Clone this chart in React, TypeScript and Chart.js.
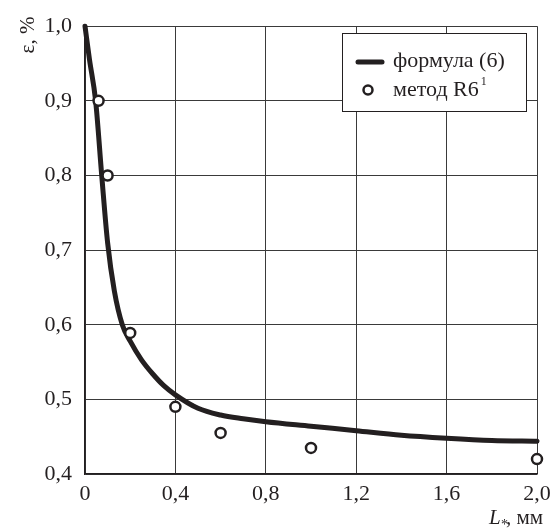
import React, { useEffect, useRef } from "react";
import { Chart, registerables } from "chart.js";

Chart.register(...registerables);

// Formula (6) curve
const curveX = [0, 0.02, 0.047, 0.074, 0.1, 0.13, 0.165, 0.2, 0.25, 0.3, 0.35, 0.4, 0.5, 0.6, 0.7, 0.8, 1.0, 1.2, 1.4, 1.6, 1.8, 2.0];
const curveY = [1.0, 0.955, 0.9, 0.8, 0.71, 0.645, 0.6, 0.578, 0.553, 0.534, 0.518, 0.506, 0.488, 0.479, 0.474, 0.47, 0.464, 0.458, 0.452, 0.448, 0.445, 0.444];

// Method R6 points
const methodX = [0.06, 0.1, 0.2, 0.4, 0.6, 1.0, 2.0];
const methodY = [0.9, 0.8, 0.589, 0.49, 0.455, 0.435, 0.42];

const xTickValues = [0, 0.4, 0.8, 1.2, 1.6, 2.0];
const xTickLabels = ["0", "0,4", "0,8", "1,2", "1,6", "2,0"];
const yTickValues = [0.4, 0.5, 0.6, 0.7, 0.8, 0.9, 1.0];
const yTickLabels = ["0,4", "0,5", "0,6", "0,7", "0,8", "0,9", "1,0"];

const legendLabels = ["формула (6)", "метод R6"];
const legendSup = "1";
const yTitle = "ε, %";
const xTitleMain = "L";
const xTitleSub = "*";
const xTitleRest = ", мм";

const FONT = "Liberation Serif";

Chart.defaults.font.family = FONT;

const overlayPlugin = {
  id: "overlay",
  afterDraw(chart: any) {
    const ctx = chart.ctx as CanvasRenderingContext2D;
    ctx.save();
    ctx.fillStyle = "#231f20";
    ctx.font = `normal 21px "${FONT}"`;
    ctx.translate(28, 35);
    ctx.rotate(-Math.PI / 2);
    ctx.textAlign = "center";
    ctx.textBaseline = "middle";
    ctx.fillText(yTitle, 0, 0);
    ctx.restore();

    ctx.save();
    ctx.fillStyle = "#231f20";
    ctx.textBaseline = "alphabetic";
    ctx.textAlign = "left";
    ctx.font = `italic 21px "${FONT}"`;
    ctx.fillText(xTitleMain, 489, 524);
    ctx.font = `normal 14px "${FONT}"`;
    ctx.fillText(xTitleSub, 501, 529);
    ctx.font = `normal 21px "${FONT}"`;
    ctx.fillText(xTitleRest, 506, 524);
    ctx.restore();

    ctx.save();
    ctx.fillStyle = "#ffffff";
    ctx.fillRect(342, 33, 185, 78);
    ctx.strokeStyle = "#231f20";
    ctx.lineWidth = 1;
    ctx.strokeRect(342.5, 33.5, 184, 78);
    ctx.lineCap = "round";
    ctx.lineWidth = 5;
    ctx.beginPath();
    ctx.moveTo(358, 62);
    ctx.lineTo(382, 62);
    ctx.stroke();
    ctx.lineWidth = 2.5;
    ctx.fillStyle = "#ffffff";
    ctx.beginPath();
    ctx.arc(368, 90, 4.5, 0, Math.PI * 2);
    ctx.fill();
    ctx.stroke();
    ctx.fillStyle = "#231f20";
    ctx.font = `normal 22px "${FONT}"`;
    ctx.textBaseline = "middle";
    ctx.textAlign = "left";
    ctx.fillText(legendLabels[0], 393, 61);
    ctx.fillText(legendLabels[1], 393, 90);
    const w = ctx.measureText(legendLabels[1]).width;
    ctx.font = `normal 12px "${FONT}"`;
    ctx.fillText(legendSup, 393 + w + 2, 82);
    ctx.restore();
  },
};

export default function App() {
  const ref = useRef<HTMLCanvasElement>(null);
  useEffect(() => {
    if (!ref.current) return;
    const chart = new Chart(ref.current, {
      type: "scatter",
      data: {
        datasets: [
          {
            label: legendLabels[1],
            data: methodX.map((x, i) => ({ x, y: methodY[i] })),
            pointRadius: 5,
            pointBorderWidth: 2.5,
            pointBackgroundColor: "#ffffff",
            pointBorderColor: "#231f20",
            showLine: false,
            order: 0,
            clip: false,
          } as any,
          {
            label: legendLabels[0],
            data: curveX.map((x, i) => ({ x, y: curveY[i] })),
            showLine: true,
            borderColor: "#231f20",
            borderWidth: 5,
            pointRadius: 0,
            cubicInterpolationMode: "monotone",
            borderCapStyle: "round",
            order: 1,
            clip: false,
          } as any,
        ],
      },
      options: {
        responsive: false,
        animation: false,
        layout: { padding: { left: 0, right: 21, top: 20, bottom: 0 } },
        plugins: { legend: { display: false }, tooltip: { enabled: false } },
        scales: {
          x: {
            type: "linear",
            min: 0,
            max: 2.0,
            afterBuildTicks: (s: any) => {
              s.ticks = xTickValues.map((v) => ({ value: v }));
            },
            afterFit: (s: any) => {
              s.height = 56;
            },
            ticks: {
              color: "#231f20",
              font: { family: FONT, size: 22, style: "normal", weight: "normal" },
              padding: 7,
              callback: (v: any) => {
                const i = xTickValues.findIndex((t) => Math.abs(t - v) < 1e-6);
                return i >= 0 ? xTickLabels[i] : "";
              },
            },
            grid: { color: "#3a3a3a", lineWidth: 1, drawTicks: false },
            border: { color: "#231f20", width: 1.5 },
          },
          y: {
            type: "linear",
            min: 0.4,
            max: 1.0,
            afterBuildTicks: (s: any) => {
              s.ticks = yTickValues.map((v) => ({ value: v }));
            },
            afterFit: (s: any) => {
              s.width = 85;
            },
            ticks: {
              color: "#231f20",
              font: { family: FONT, size: 22, style: "normal", weight: "normal" },
              padding: 13,
              callback: (v: any) => {
                const i = yTickValues.findIndex((t) => Math.abs(t - v) < 1e-6);
                return i >= 0 ? yTickLabels[i] : "";
              },
            },
            grid: { color: "#3a3a3a", lineWidth: 1, drawTicks: false },
            border: { color: "#231f20", width: 1.5 },
          },
        },
      },
      plugins: [overlayPlugin],
    });
    return () => chart.destroy();
  }, []);
  return (
    <div style={{ position: "absolute", left: 0, top: 0, width: 558, height: 530, background: "#fff" }}>
      <canvas ref={ref} width={558} height={530} style={{ display: "block" }} />
    </div>
  );
}
